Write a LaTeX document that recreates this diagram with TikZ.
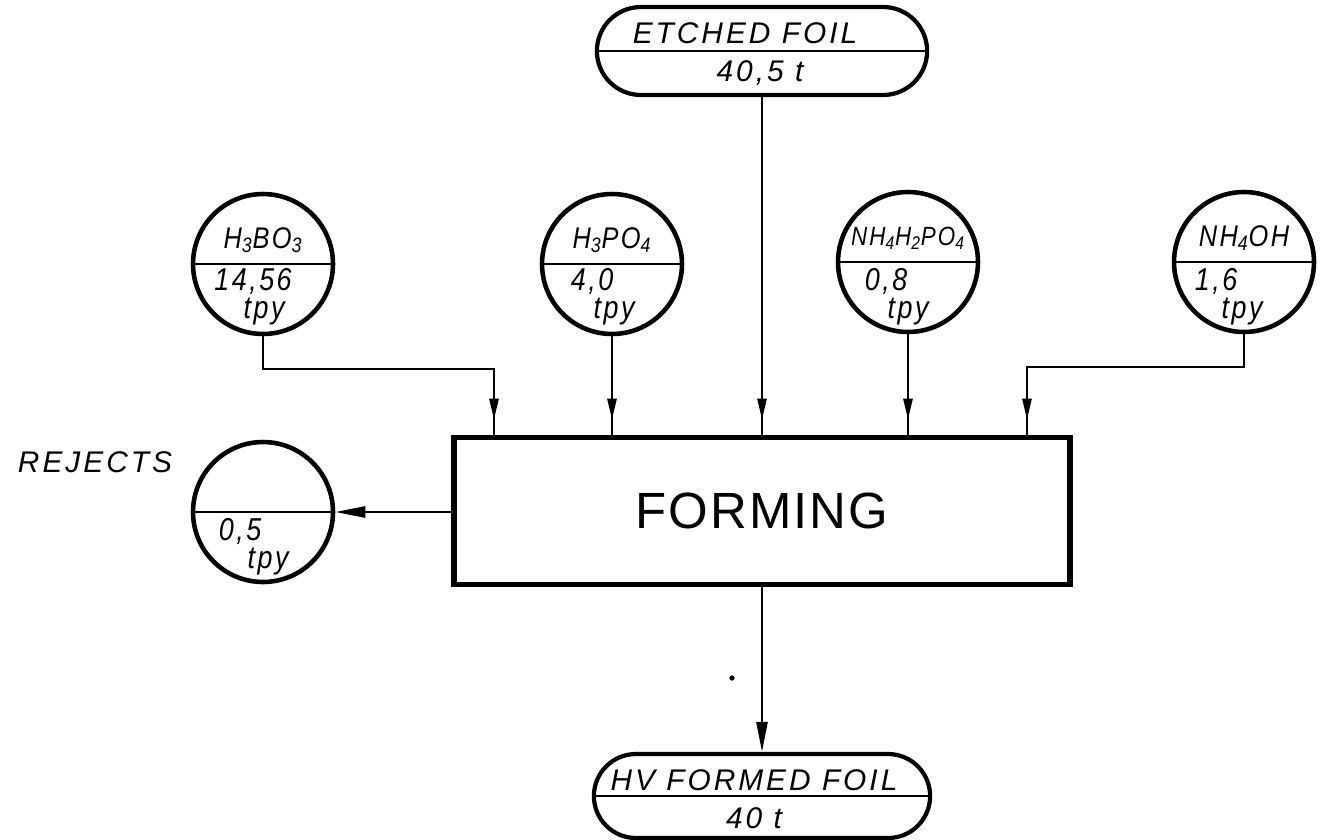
\documentclass[tikz,border=0pt]{standalone}
\usepackage{fontspec}
\setmainfont{Liberation Sans}
\newfontfamily\handfont{Liberation Sans}[LetterSpace=10]
\newfontfamily\tankfont{Liberation Sans}[FakeStretch=0.85, LetterSpace=8]
\usetikzlibrary{arrows.meta,
                positioning,
                shapes.misc,
                decorations.markings
                }

\tikzset{
  tank/.style={circle, draw, line width=2.6pt, minimum size=2.8cm, inner sep=0pt},
  foil/.style={rounded rectangle, draw, line width=2.4pt, minimum width=6.84cm, minimum height=1.76cm},
  hand/.style={font=\tankfont\itshape\fontsize{17}{18}\selectfont, inner sep=0pt},
  handbig/.style={font=\handfont\itshape\fontsize{17}{18}\selectfont, inner sep=0pt},
  amount/.style={font=\tankfont\itshape\fontsize{18}{19}\selectfont, inner sep=0pt},
  divider/.style={line width=1.6pt},
  flow/.style={line width=1.5pt,
    decoration={markings, mark=at position -0.3cm with {\arrow{Triangle[length=0.42cm, width=0.18cm]}}},
    postaction={decorate}},
  outflow/.style={line width=1.5pt, -{Triangle[length=0.6cm, width=0.22cm]}}
}

\begin{document}
\begin{tikzpicture}[x=0.02cm, y=-0.02cm]

\useasboundingbox (0,0) rectangle (1335,839);

\node[foil] (etch) at (762,51) {};
\draw[divider] (etch.west) -- (etch.east);
\node[handbig] (etchname) at (745,33) {ETCHED FOIL};
\node[handbig] (etchamt) at (760,73) {40,5 t};

\node[tank] (hbo) at (263,264) {};
\draw[divider] (hbo.west) -- (hbo.east);
\node[hand] (hboname) at (263,240) {H\textsubscript{3}BO\textsubscript{3}};
\node[amount] (hboamt) at (253,281) {14,56};
\node[amount] (hbounit) at (264,312) {tpy};

\node[tank] (hpo) at (612,264) {};
\draw[divider] (hpo.west) -- (hpo.east);
\node[hand] (hponame) at (612,240) {H\textsubscript{3}PO\textsubscript{4}};
\node[amount] (hpoamt) at (592,281) {4,0};
\node[amount] (hpounit) at (614,312) {tpy};

\node[tank] (nhp) at (908,262) {};
\draw[divider] (nhp.west) -- (nhp.east);
\node[hand, font=\tankfont\itshape\fontsize{15}{16}\selectfont] (nhpname) at (908,238) {NH\textsubscript{4}H\textsubscript{2}PO\textsubscript{4}};
\node[amount] (nhpamt) at (886,281) {0,8};
\node[amount] (nhpunit) at (908,312) {tpy};

\node[tank] (nho) at (1244,262) {};
\draw[divider] (nho.west) -- (nho.east);
\node[hand] (nhoname) at (1244,238) {NH\textsubscript{4}OH};
\node[amount] (nhoamt) at (1216,281) {1,6};
\node[amount] (nhounit) at (1242,312) {tpy};

\node[draw, line width=3.2pt, minimum width=12.32cm, minimum height=2.94cm,
      font=\fontsize{29}{30}\selectfont\addfontfeature{LetterSpace=4}] (form) at (762,511) {FORMING};

\node[tank] (rej) at (263,512) {};
\draw[divider] (rej.west) -- (rej.east);
\node[handbig] (rejname) at (95,462) {REJECTS};
\node[amount] (rejamt) at (240,531) {0,5};
\node[amount] (rejunit) at (268,562) {tpy};

\node[foil, minimum width=6.96cm, minimum height=1.68cm] (hv) at (762,796) {};
\draw[divider] (hv.west) -- (hv.east);
\node[handbig] (hvname) at (754,780) {HV FORMED FOIL};
\node[handbig] (hvamt) at (754,818) {40 t};

\coordinate (jl) at (494,369);
\coordinate (jr) at (1027,367);

\draw[flow] (hbo.south) |- (jl) -- (jl |- form.north);
\draw[flow] (hpo.south) -- (hpo.south |- form.north);
\draw[flow] (etch.south) -- (etch.south |- form.north);
\draw[flow] (nhp.south) -- (nhp.south |- form.north);
\draw[flow] (nho.south) |- (jr) -- (jr |- form.north);

\draw[outflow] (rej.east -| form.west) -- (rej.east);
\draw[outflow] (form.south) -- (hv.north);

\fill (732,678) circle (1.5pt);

\end{tikzpicture}
\end{document}
